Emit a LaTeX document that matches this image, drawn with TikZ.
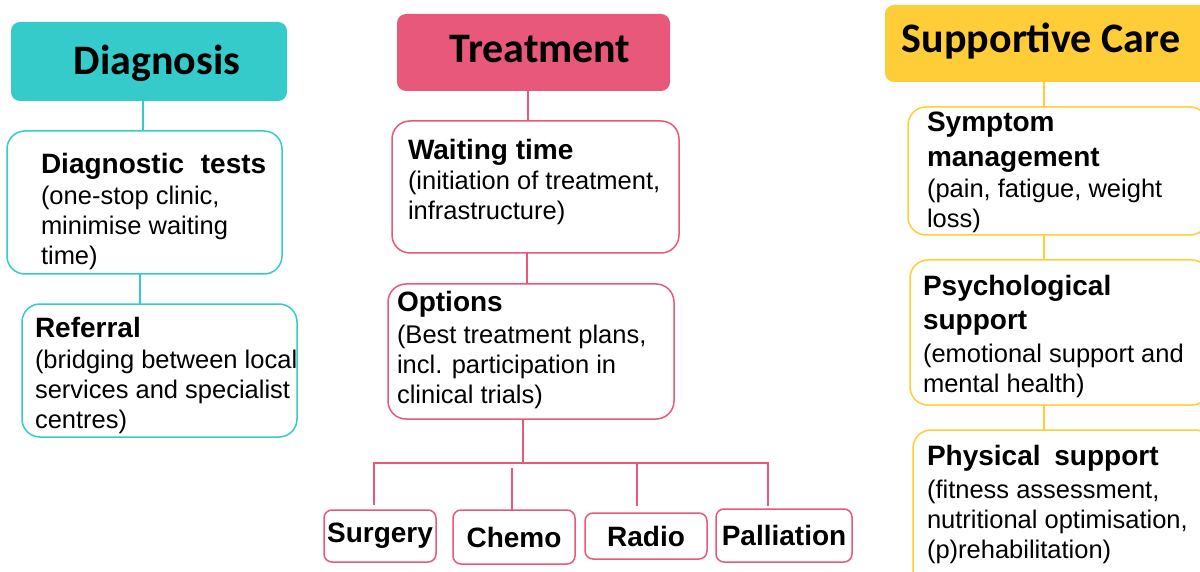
\documentclass[tikz,border=0pt]{standalone}
\usepackage{fontspec}
\setmainfont{Liberation Sans}
\newfontfamily\hdrfont{Carlito}
\definecolor{tealc}{HTML}{35CBCB}
\definecolor{pinkc}{HTML}{E7587A}
\definecolor{goldc}{HTML}{FFCD38}
\newcommand\ttl[1]{{\fontsize{28}{30}\selectfont\bfseries #1}}
\begin{document}
\begin{tikzpicture}[x=1pt,y=-1pt,
  box/.style={draw, line width=1.5pt, fill=white, rounded corners=18pt, anchor=north west, inner sep=0pt, outer sep=0pt},
  sbox/.style={box, rounded corners=8pt, font=\fontsize{28}{30}\selectfont\bfseries},
  hdr/.style={rounded corners=9pt, anchor=north west, inner sep=0pt, outer sep=0pt},
  txt/.style={anchor=base west, inner sep=0pt, outer sep=0pt, font=\fontsize{25.5}{30}\selectfont},
  htxt/.style={anchor=base, inner sep=0pt, font=\hdrfont\bfseries\fontsize{42}{48}\selectfont},
  conn/.style={line width=1.5pt}]
\useasboundingbox (0,0) rectangle (1200,572);
\clip (0,0) rectangle (1200,572);
\fill[white] (0,0) rectangle (1200,572);

% ---------- Diagnosis ----------
\node[hdr, fill=tealc, minimum width=276pt, minimum height=79pt] (dgh) at (11,22) {};
\node[htxt] (dght) at (157,75) {Diagnosis};
\node[box, draw=tealc, minimum width=275pt, minimum height=143pt] (dt) at (7,131) {};
\node[txt] (dtt) at (41,174) {\begin{tabular}[t]{@{}l@{}}\ttl{Diagnostic\hspace{9pt} tests}\\[1pt](one-stop clinic,\\minimise waiting\\time)\end{tabular}};
\node[box, draw=tealc, minimum width=275pt, minimum height=133pt] (rf) at (22,304) {};
\node[txt] (rft) at (35,337) {\begin{tabular}[t]{@{}l@{}}\ttl{Referral}\\[2pt](bridging between local\\services and specialist\\centres)\end{tabular}};
\coordinate (c1) at (143,0);
\coordinate (c2) at (140,0);
\draw[conn, tealc] (dgh.south -| c1) -- (dt.north -| c1);
\draw[conn, tealc] (dt.south -| c2) -- (rf.north -| c2);

% ---------- Treatment ----------
\node[hdr, fill=pinkc, minimum width=273pt, minimum height=77pt] (trh) at (397,14) {};
\node[htxt] (trht) at (540,63) {Treatment};
\node[box, draw=pinkc, minimum width=287pt, minimum height=132pt] (wt) at (392,121) {};
\node[txt] (wtt) at (408,160) {\begin{tabular}[t]{@{}l@{}}\ttl{Waiting time}\\(initiation of treatment,\\infrastructure)\end{tabular}};
\node[box, draw=pinkc, minimum width=286pt, minimum height=135pt] (op) at (388,284) {};
\node[txt] (opt) at (397,312) {\begin{tabular}[t]{@{}l@{}}\ttl{Options}\\[2pt](Best treatment plans,\\incl. participation in\\clinical trials)\end{tabular}};
\coordinate (c3) at (528,0);
\coordinate (c4) at (527,0);
\draw[conn, pinkc] (trh.south -| c3) -- (wt.north -| c3);
\draw[conn, pinkc] (wt.south -| c4) -- (op.north -| c4);

\node[sbox, draw=pinkc, minimum width=112pt, minimum height=52pt] (su) at (324,510) {Surgery};
\node[sbox, draw=pinkc, minimum width=122pt, minimum height=54pt] (ch) at (453,510) {Chemo};
\node[sbox, draw=pinkc, minimum width=122pt, minimum height=46pt] (ra) at (585,513) {Radio};
\node[sbox, draw=pinkc, minimum width=136pt, minimum height=53pt] (pa) at (716,509) {Palliation};
\coordinate (j) at (523,463);
\coordinate (xs) at (374,0);
\coordinate (xc) at (512,0);
\coordinate (xr) at (637,0);
\coordinate (xp) at (768,0);
\draw[conn, pinkc] (op.south -| j) -- (j);
\draw[conn, pinkc] ([yshift=5pt]su.north -| xs) -- (j -| xs) -- (j -| xp) -- ([yshift=3pt]pa.north -| xp);
\draw[conn, pinkc] ([yshift=-5pt]j -| xc) -- (ch.north -| xc);
\draw[conn, pinkc] (j -| xr) -- ([yshift=7pt]ra.north -| xr);

% ---------- Supportive Care ----------
\node[hdr, fill=goldc, minimum width=330pt, minimum height=77pt] (sch) at (885,5) {};
\node[htxt] (scht) at (1041,53) {Supportive Care};
\node[box, draw=goldc, minimum width=300pt, minimum height=128pt] (sm) at (908,107) {};
\node[txt] (smt) at (927,132) {\begin{tabular}[t]{@{}l@{}}\ttl{Symptom}\\[5pt]\ttl{management}\\[1pt](pain, fatigue, weight\\loss)\end{tabular}};
\node[box, draw=goldc, minimum width=300pt, minimum height=145pt] (ps) at (910,260) {};
\node[txt] (pst) at (923,295) {\begin{tabular}[t]{@{}l@{}}\ttl{Psychological}\\[5pt]\ttl{support}\\[2pt](emotional support and\\mental health)\end{tabular}};
\node[box, draw=goldc, minimum width=300pt, minimum height=160pt] (ph) at (913,430) {};
\node[txt] (pht) at (927,465) {\begin{tabular}[t]{@{}l@{}}\ttl{Physical\hspace{6pt} support}\\[3pt](fitness assessment,\\nutritional optimisation,\\(p)rehabilitation)\end{tabular}};
\coordinate (c5) at (1044,0);
\draw[conn, goldc] (sch.south -| c5) -- (sm.north -| c5);
\draw[conn, goldc] (sm.south -| c5) -- (ps.north -| c5);
\draw[conn, goldc] (ps.south -| c5) -- (ph.north -| c5);
\end{tikzpicture}
\end{document}
